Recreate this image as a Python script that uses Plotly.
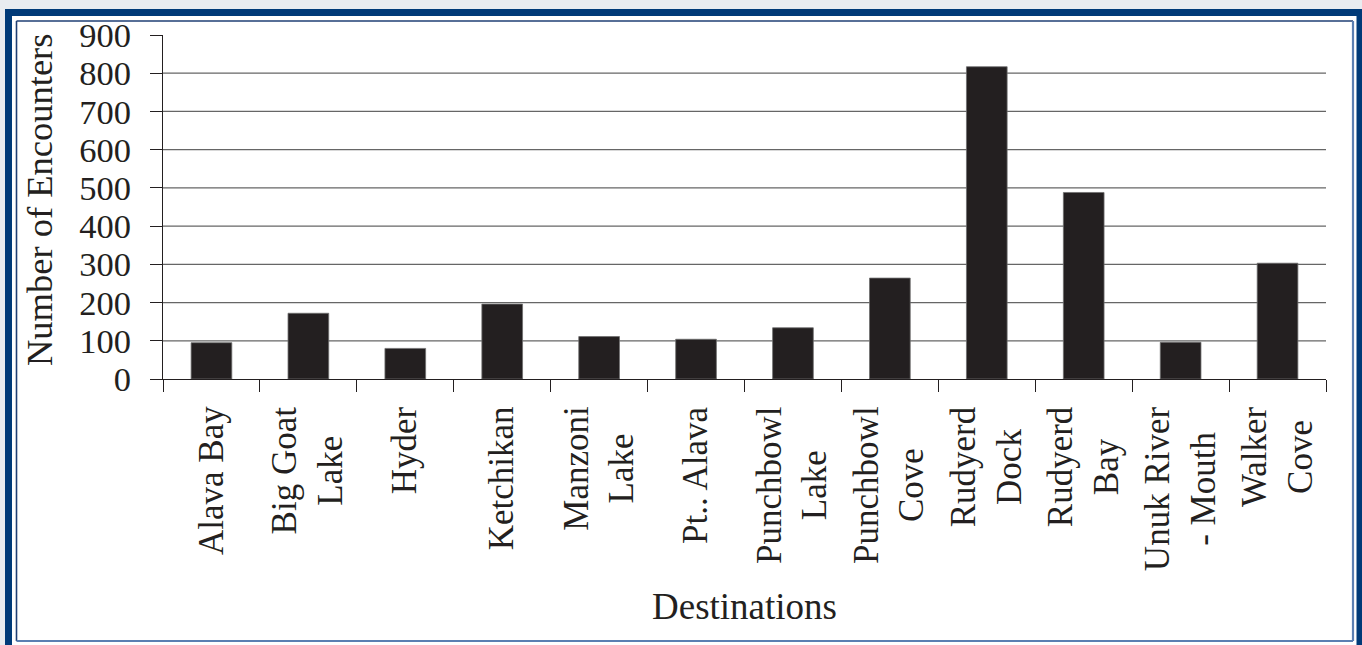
import plotly.graph_objects as go

# Destinations and encounter counts
destinations = [
    "Alava Bay", "Big Goat Lake", "Hyder", "Ketchikan", "Manzoni Lake",
    "Pt.. Alava", "Punchbowl Lake", "Punchbowl Cove", "Rudyerd Dock",
    "Rudyerd Bay", "Unuk River - Mouth", "Walker Cove",
]
tick_labels = [
    "Alava Bay", "Big Goat<br>Lake", "Hyder", "Ketchikan", "Manzoni<br>Lake",
    "Pt.. Alava", "Punchbowl<br>Lake", "Punchbowl<br>Cove", "Rudyerd<br>Dock",
    "Rudyerd<br>Bay", "Unuk River<br>- Mouth", "Walker<br>Cove",
]
encounters = [95, 172, 80, 196, 111, 104, 134, 264, 817, 488, 96, 303]
y_ticks = [0, 100, 200, 300, 400, 500, 600, 700, 800, 900]

FONT = "Liberation Serif, Times New Roman, serif"
INK = "#231f20"
W, H = 1362, 645
L, R, T, B = 163, 1326, 35, 379


def px_x(x):
    return (x - L) / (R - L)


def px_y(y):
    return (B - y) / (B - T)


fig = go.Figure(
    go.Bar(
        x=destinations,
        y=encounters,
        marker=dict(color=INK, line=dict(color="#6f6f6f", width=0.8)),
    )
)

shapes = []
# page frame: outer navy band, white inset, thin bevel lines
shapes.append(dict(type="rect", xref="paper", yref="paper", layer="below",
                   x0=px_x(5), x1=px_x(1380), y0=px_y(9), y1=px_y(670),
                   fillcolor="#003a78", line=dict(width=0)))
shapes.append(dict(type="rect", xref="paper", yref="paper", layer="below",
                   x0=px_x(12), x1=px_x(1356.5), y0=px_y(16), y1=px_y(670),
                   fillcolor="white", line=dict(width=0)))
for (x0, y0, x1, y1, col, w) in [
    (16.5, 21, 16.5, 641, "#1f3f74", 1.6),
    (16.5, 21, 1353, 21, "#1f3f74", 1.6),
    (1353, 21, 1353, 641, "#5b7fb2", 2.2),
    (16.5, 641, 1353, 641, "#5b7fb2", 2.2),
]:
    shapes.append(dict(type="line", xref="paper", yref="paper", layer="below",
                       x0=px_x(x0), x1=px_x(x1), y0=px_y(y0), y1=px_y(y1),
                       line=dict(color=col, width=w)))

# horizontal gridlines between the axis and the top tick
for v in y_ticks[1:-1]:
    shapes.append(dict(type="line", xref="paper", yref="y", layer="below",
                       x0=0, x1=1, y0=v, y1=v,
                       line=dict(color="#666666", width=1.2)))

annotations = []
for name, lab in zip(destinations, tick_labels):
    annotations.append(dict(
        x=name, xref="x", y=px_y(404), yref="paper",
        text=lab, textangle=-90, showarrow=False,
        xanchor="center", yanchor="top", align="center",
        font=dict(family=FONT, size=35, color=INK),
    ))
annotations.append(dict(
    x=0.5, xref="paper", y=px_y(606), yref="paper",
    text="Destinations", showarrow=False, xanchor="center", yanchor="middle",
    font=dict(family=FONT, size=37, color=INK),
))
annotations.append(dict(
    x=px_x(39), xref="paper", y=px_y(200), yref="paper",
    text="Number of Encounters", textangle=-90, showarrow=False,
    xanchor="center", yanchor="middle",
    font=dict(family=FONT, size=36.5, color=INK),
))

fig.update_layout(
    width=W, height=H,
    margin=dict(l=L, r=W - R, t=T, b=H - B, pad=0),
    paper_bgcolor="#e9ecf0",
    plot_bgcolor="rgba(0,0,0,0)",
    bargap=0.58,
    showlegend=False,
    shapes=shapes,
    annotations=annotations,
    font=dict(family=FONT, color=INK),
)
fig.update_xaxes(
    type="category", range=[-0.5, len(destinations) - 0.5],
    showgrid=False, showline=True, linecolor=INK, linewidth=1.2,
    ticks="outside", tickson="boundaries", ticklen=12, tickwidth=1.2,
    tickcolor=INK, showticklabels=False, fixedrange=True,
)
fig.update_yaxes(
    range=[0, 900], tickvals=y_ticks, showgrid=False, zeroline=False,
    showline=True, linecolor=INK, linewidth=1.2,
    ticks="outside", ticklen=12, tickwidth=1.2, tickcolor=INK,
    ticklabelstandoff=12,
    tickfont=dict(family=FONT, size=34.5, color=INK), fixedrange=True,
)

fig.write_html("out.html")
